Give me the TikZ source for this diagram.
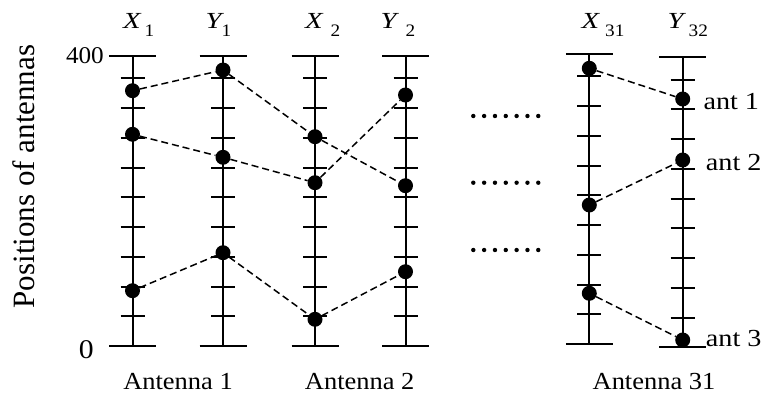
\documentclass[tikz,border=0pt]{standalone}
\usepackage{fontspec}
\usepackage{graphicx}
\setmainfont{Liberation Serif}
\newcommand{\wtxt}[2]{\scalebox{#1}[1]{#2}}
\begin{document}
\begin{tikzpicture}[x=1pt,y=-1pt,
  axisline/.style={line width=2pt},
  dot/.style={circle,fill=black,inner sep=0pt,minimum size=15pt},
  link/.style={line width=1.5pt,dash pattern=on 7pt off 4pt},
  lbl/.style={inner sep=0pt,font=\fontsize{24.5}{24.5}\selectfont},
  toplbl/.style={inner sep=0pt,anchor=base west,font=\fontsize{23}{23}\selectfont\itshape},
  sublbl/.style={inner sep=0pt,anchor=base west,font=\fontsize{17.5}{17.5}\selectfont},
  ellip/.style={circle,fill=black,inner sep=0pt,minimum size=4.4pt}
]
\useasboundingbox (0,0) rectangle (769,396);
% axes
\foreach \x/\t/\b in {132.5/56/346, 223/56/346, 315/56/346, 405.5/56/346, 589.3/54/344, 682.7/57/347.3}{
  \draw[axisline] (\x,\t) -- (\x,\b);
  \draw[axisline] (\x-23.5,\t) -- (\x+23.5,\t);
  \draw[axisline] (\x-23.5,\b) -- (\x+23.5,\b);
  \foreach \k in {1,...,9}{\draw[axisline] (\x-12,\b-29.75*\k) -- (\x+12,\b-29.75*\k);}
}
% dots
\node[dot] (x1a) at (132.5,90.7) {};
\node[dot] (x1b) at (132.5,134.3) {};
\node[dot] (x1c) at (132.5,290.7) {};
\node[dot] (y1a) at (223,70) {};
\node[dot] (y1b) at (223,157.3) {};
\node[dot] (y1c) at (223,252.7) {};
\node[dot] (x2a) at (315,136.7) {};
\node[dot] (x2b) at (315,182.7) {};
\node[dot] (x2c) at (315,319.3) {};
\node[dot] (y2a) at (405.5,95) {};
\node[dot] (y2b) at (405.5,185.7) {};
\node[dot] (y2c) at (405.5,271.7) {};
\node[dot] (x31a) at (589.3,68.3) {};
\node[dot] (x31b) at (589.3,205) {};
\node[dot] (x31c) at (589.3,293.3) {};
\node[dot] (y32a) at (682.7,99) {};
\node[dot] (y32b) at (682.7,160) {};
\node[dot] (y32c) at (682.7,340) {};
% links
\draw[link] (x1a) -- (y1a);
\draw[link] (x1b) -- (y1b);
\draw[link] (x1c) -- (y1c);
\draw[link] (y1a) -- (x2a);
\draw[link] (y1b) -- (x2b);
\draw[link] (y1c) -- (x2c);
\draw[link] (x2a) -- (y2b);
\draw[link] (x2b) -- (y2a);
\draw[link] (x2c) -- (y2c);
\draw[link] (x31a) -- (y32a);
\draw[link] (x31b) -- (y32b);
\draw[link] (x31c) -- (y32c);
% ellipses
\foreach \yy in {116,182.7,250}{
  \foreach \i in {0,...,6}{\node[ellip] at (473.3+10.83*\i,\yy) {};}
}
% top labels
\node[toplbl] (tx1) at (123,28.3) {\wtxt{1.25}{X}};
\node[sublbl] at (144.5,36.7) {\wtxt{1.1}{1}};
\node[toplbl] (ty1) at (205.5,28.3) {\wtxt{1.25}{Y}};
\node[sublbl] at (221.5,36.7) {\wtxt{1.1}{1}};
\node[toplbl] (tx2) at (305,28.3) {\wtxt{1.25}{X}};
\node[sublbl] at (330.5,36.7) {\wtxt{1.1}{2}};
\node[toplbl] (ty2) at (380.5,28.3) {\wtxt{1.25}{Y}};
\node[sublbl] at (405.5,36.7) {\wtxt{1.1}{2}};
\node[toplbl] (tx31) at (581.5,28.3) {\wtxt{1.25}{X}};
\node[sublbl] at (605,36.7) {\wtxt{1.1}{31}};
\node[toplbl] (ty32) at (667.5,28.3) {\wtxt{1.25}{Y}};
\node[sublbl] at (688.5,36.7) {\wtxt{1.1}{32}};
% axis labels
\node[inner sep=0pt,anchor=base east,font=\fontsize{24}{24}\selectfont] (l400) at (104,64) {\wtxt{1.05}{400}};
\node[inner sep=0pt,anchor=base east,font=\fontsize{27}{27}\selectfont] (l0) at (94,358) {\wtxt{1.1}{0}};
\node[inner sep=0pt,anchor=base,rotate=90,font=\fontsize{31}{31}\selectfont] (pos) at (34.5,176.5) {Positions of antennas};
% bottom labels
\node[lbl,anchor=base] (an1) at (178,389.3) {\wtxt{1.08}{Antenna 1}};
\node[lbl,anchor=base] (an2) at (359.7,389.3) {\wtxt{1.08}{Antenna 2}};
\node[lbl,anchor=base] (an31) at (654,389.3) {\wtxt{1.08}{Antenna 31}};
% ant labels
\node[lbl,anchor=base west] (ant1) at (703.3,109.3) {\wtxt{1.15}{ant 1}};
\node[lbl,anchor=base west] (ant2) at (705.7,170) {\wtxt{1.15}{ant 2}};
\node[lbl,anchor=base west] (ant3) at (705.7,346.7) {\wtxt{1.15}{ant 3}};
\end{tikzpicture}
\end{document}
